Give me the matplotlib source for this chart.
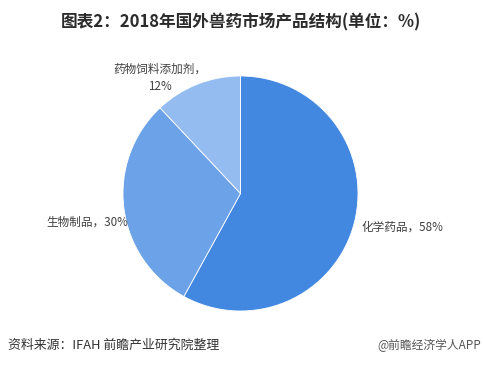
import matplotlib
matplotlib.use("Agg")
import matplotlib.pyplot as plt
import numpy as np

plt.rcParams['font.family'] = ['Noto Sans CJK SC', 'DejaVu Sans']

categories = ['化学药品', '生物制品', '药物饲料添加剂']
values = [58, 30, 12]
colors = ['#4388E0', '#6CA2E8', '#94BCF0']
title = '图表2：2018年国外兽药市场产品结构(单位：%)'
source = '资料来源：IFAH 前瞻产业研究院整理'
brand = '@前瞻经济学人APP'

W, H = 483, 366
fig = plt.figure(figsize=(W / 100, H / 100), dpi=100)
fig.patch.set_facecolor('white')

ax = fig.add_axes([123 / W, (H - 311) / H, 235 / W, 235 / H])
ax.pie(values, colors=colors, startangle=90, counterclock=False, radius=1,
       wedgeprops=dict(linewidth=0.6, edgecolor='white'))
ax.set_xlim(-1, 1)
ax.set_ylim(-1, 1)
ax.set_aspect('auto')
ax.axis('off')

lab_color = '#404040'
r = 117.5
cx, cy = 240.5, 193.5


def px(x, y):
    return ((x - cx) / r, (cy - y) / r)


fs = 8.4
x0, y0 = px(362, 227)
ax.text(x0, y0, f'{categories[0]}，{values[0]}%', fontsize=fs, color=lab_color,
        ha='left', va='center', clip_on=False)
x1, y1 = px(128, 222)
ax.text(x1, y1, f'{categories[1]}，{values[1]}%', fontsize=fs, color=lab_color,
        ha='right', va='center', clip_on=False)
x2, y2 = px(160, 78)
ax.text(x2, y2, f'{categories[2]}，\n{values[2]}%', fontsize=fs, color=lab_color,
        ha='center', va='center', clip_on=False, linespacing=1.4)

fig.text(241 / W, 1 - 22 / H, title, fontsize=12, fontweight='bold', color='#2b2b2b',
         ha='center', va='center')
fig.text(8 / W, 1 - 345 / H, source, fontsize=9.3, color='#333333', ha='left', va='center')
fig.text(481 / W, 1 - 345 / H, brand, fontsize=8.5, color='#555555', ha='right', va='center')

fig.savefig('out.png', dpi=100, facecolor='white')
